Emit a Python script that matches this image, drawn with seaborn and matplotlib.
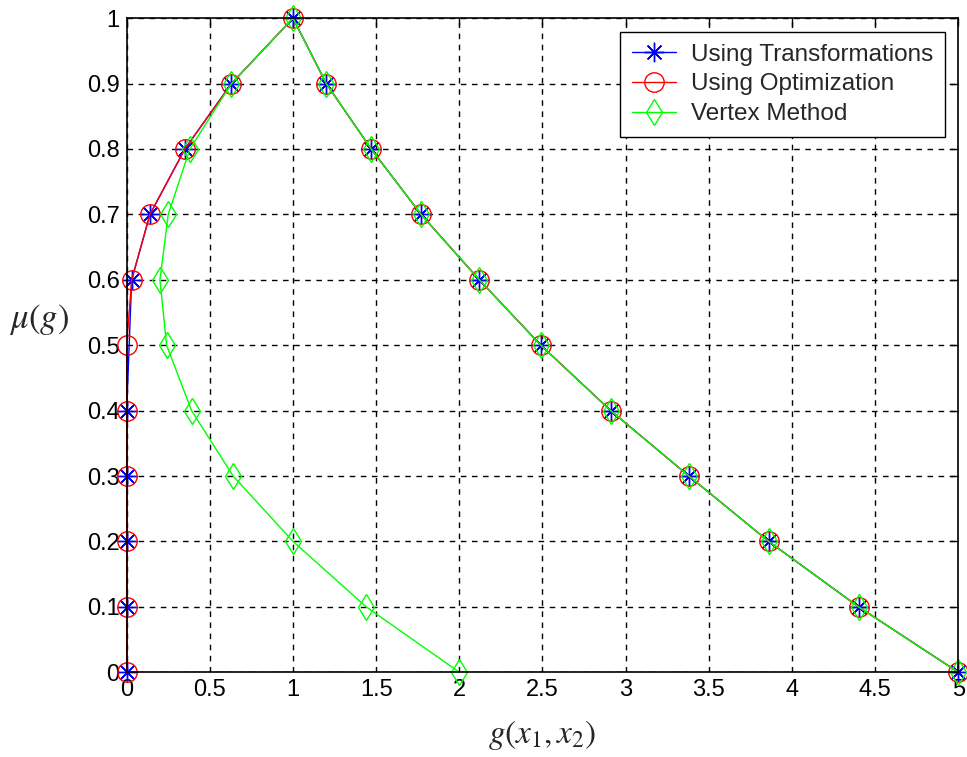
import numpy as np
import pandas as pd
import matplotlib
matplotlib.use('Agg')
import matplotlib.pyplot as plt
import seaborn as sns

# membership levels, walked from the left foot up to the peak and down the right side
mu_left = [0.0, 0.1, 0.2, 0.3, 0.4, 0.5, 0.6, 0.7, 0.8, 0.9, 1.0]
mu_right = [0.9, 0.8, 0.7, 0.6, 0.5, 0.4, 0.3, 0.2, 0.1, 0.0]

g_right = [1.20, 1.47, 1.77, 2.12, 2.49, 2.91, 3.38, 3.86, 4.40, 5.0]

g_trans_left = [0.0, 0.0, 0.0, 0.0, 0.0, None, 0.03, 0.14, 0.35, 0.63, 1.0]
g_opt_left = [0.0, 0.0, 0.0, 0.0, 0.0, 0.0, 0.03, 0.14, 0.35, 0.63, 1.0]
g_vert_left = [2.0, 1.44, 1.0, 0.64, 0.39, 0.24, 0.20, 0.25, 0.38, 0.63, 1.0]

labels = ['Using Transformations', 'Using Optimization', 'Vertex Method']


def build(left, name):
    g = left + g_right
    mu = mu_left + mu_right
    d = pd.DataFrame({'g': g, 'mu': mu})
    d = d.dropna().reset_index(drop=True)
    d['method'] = name
    return d


df_t = build(g_trans_left, labels[0])
df_o = build(g_opt_left, labels[1])
df_v = build(g_vert_left, labels[2])

sns.set_style('white')
plt.rcParams['font.family'] = ['Liberation Sans', 'DejaVu Sans']
plt.rcParams['mathtext.fontset'] = 'stix'

fig = plt.figure(figsize=(9.67, 7.57), dpi=100)
ax = fig.add_axes([0.131, 0.112, 0.860, 0.864])

sns.lineplot(data=df_t, x='g', y='mu', sort=False, estimator=None, color='#0000ff',
             marker=(8, 2, 0), markersize=14, markeredgecolor='#0000ff',
             markeredgewidth=1.0, linewidth=1.0, label=labels[0], ax=ax, clip_on=False)
sns.lineplot(data=df_o, x='g', y='mu', sort=False, estimator=None, color='#ff0000',
             marker='o', markersize=14, markerfacecolor='none', markeredgecolor='#ff0000',
             markeredgewidth=1.0, linewidth=1.0, label=labels[1], ax=ax, clip_on=False)
sns.lineplot(data=df_v, x='g', y='mu', sort=False, estimator=None, color='#00ff00',
             marker='d', markersize=13, markerfacecolor='none', markeredgecolor='#00ff00',
             markeredgewidth=1.0, linewidth=1.0, label=labels[2], ax=ax, clip_on=False)

ax.set_xlim(0, 5)
ax.set_ylim(0, 1)
xt = np.arange(0, 5.01, 0.5)
yt = np.arange(0, 1.01, 0.1)
ax.set_xticks(xt)
ax.set_xticklabels(['0', '0.5', '1', '1.5', '2', '2.5', '3', '3.5', '4', '4.5', '5'])
ax.set_yticks(yt)
ax.set_yticklabels(['0', '0.1', '0.2', '0.3', '0.4', '0.5', '0.6', '0.7', '0.8', '0.9', '1'])
ax.tick_params(direction='in', length=6, width=1, labelsize=17, colors='black',
               top=True, right=True, pad=5)
ax.grid(True, color='black', linestyle=(0, (4, 4)), linewidth=1.0)
for sp in ax.spines.values():
    sp.set_visible(True)
    sp.set_color('black')
    sp.set_linewidth(1.2)

ax.set_xlabel(r'$g(x_1,x_2)$', fontsize=24, labelpad=12)
ax.set_ylabel(r'$\mu(g)$', fontsize=25, rotation=0, ha='center', va='center')
ax.yaxis.set_label_coords(-0.105, 0.54)

leg = ax.legend(loc='upper right', fontsize=17.5, frameon=True, fancybox=False,
                edgecolor='black', framealpha=1, borderpad=0.5, labelspacing=0.32,
                handlelength=1.8, handletextpad=0.6, borderaxespad=0.55)
leg.get_frame().set_linewidth(1.0)

fig.savefig('out.png', dpi=100)
